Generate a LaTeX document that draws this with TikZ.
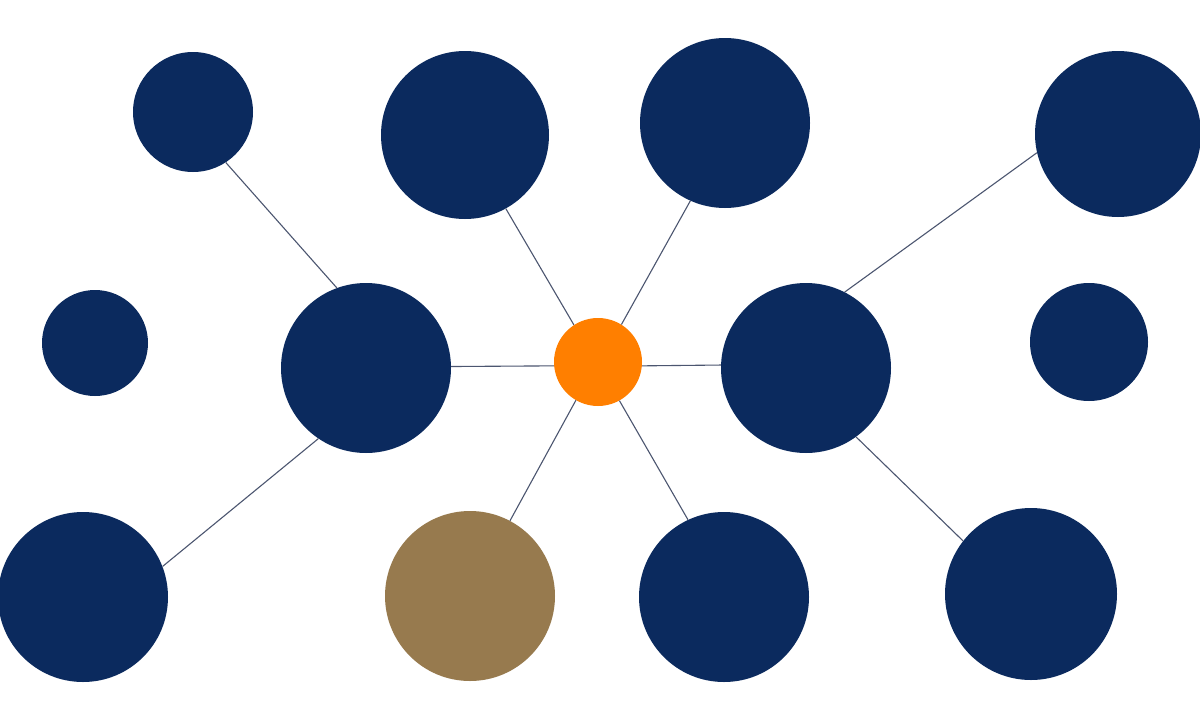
\documentclass[tikz,border=0pt]{standalone}
\definecolor{navy}{HTML}{0B2A5E}
\definecolor{orng}{HTML}{FF7F00}
\definecolor{brwn}{HTML}{977A4E}
\definecolor{edgec}{HTML}{4C5670}
\begin{document}
\begin{tikzpicture}[x=1pt,y=-1pt,
  dot/.style={circle,fill=navy,draw=none,inner sep=0pt,minimum size=#1},
  edge/.style={draw=edgec,line width=1.1pt}]
\useasboundingbox[fill=white] (0,0) rectangle (1200,704);
\node[dot=120pt] (a) at (193,112) {};
\node[dot=168pt] (b) at (465,135) {};
\node[dot=170pt] (c) at (725,123) {};
\node[dot=166pt] (d) at (1118,134) {};
\node[dot=106pt] (e) at (95,343) {};
\node[dot=170pt] (f) at (366,368) {};
\node[dot=88pt,fill=orng] (o) at (598,362) {};
\node[dot=170pt] (g) at (806,368) {};
\node[dot=118pt] (h) at (1089,342) {};
\node[dot=170pt] (i) at (83,597) {};
\node[dot=170pt,fill=brwn] (j) at (470,596) {};
\node[dot=170pt] (k) at (724,597) {};
\node[dot=172pt] (l) at (1031,594) {};
\path[edge] (a.303) -- (f.110);
\path[edge] (b.299) -- (o.123);
\path[edge] (c.246) -- (o.58);
\path[edge] (d.193) -- (g.63);
\path[edge] (f.1.3) -- (o.185);
\path[edge] (o.355) -- (g.178.7);
\path[edge] (f.236) -- (i.21);
\path[edge] (o.240) -- (j.62);
\path[edge] (o.299) -- (k.115);
\path[edge] (g.306) -- (l.142);
\end{tikzpicture}
\end{document}
